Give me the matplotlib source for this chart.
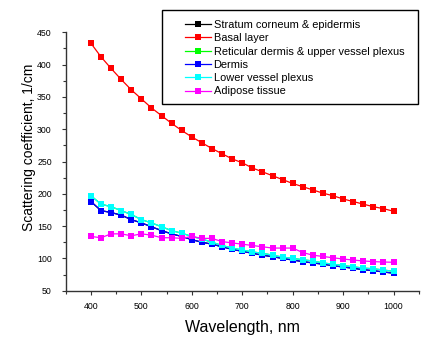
import matplotlib
matplotlib.use('Agg')
import matplotlib.pyplot as plt
from matplotlib.patches import Rectangle
from matplotlib.ticker import MultipleLocator

plt.rcParams['font.family'] = ['Liberation Sans', 'DejaVu Sans']

# scattering coefficient (1/cm) of the skin layers, 400-1000 nm in 20 nm steps
wavelength = list(range(400, 1001, 20))

stratum = [188, 174, 171, 167, 160, 155, 149, 143, 138, 134, 129, 125, 122, 118, 114, 111,
           108, 105, 102.6, 100, 97.5, 95, 93, 91, 88.7, 86.7, 84.7, 82.5, 81, 79, 77]
basal = [433, 412, 394, 377, 361, 347, 333, 321, 309, 298, 288, 279, 270, 262, 254, 248,
         240, 234, 228, 222, 216, 211, 206, 201, 197, 192, 188, 184, 180, 177, 173]
reticular = [197, 184, 180, 174, 168, 160, 155, 149, 143, 139, 134, 130, 125, 120, 116, 113,
             110, 108, 105, 102, 100, 98, 96, 93, 91, 89, 87, 85, 84, 82, 80]
dermis = [188, 174, 171, 167, 160, 155, 149, 143, 138, 134, 129, 125, 122, 118, 114, 111,
          108, 105, 102.6, 100, 97.5, 95, 93, 91, 88.7, 86.7, 84.7, 82.5, 81, 79, 77]
lower_plexus = [197, 184, 180, 174, 168, 160, 155, 149, 143, 139, 134, 130, 125, 120, 116, 113,
                110, 108, 105, 102, 100, 98, 96, 93, 91, 89, 87, 85, 84, 82, 80]
adipose = [134, 132, 138, 138, 135, 138, 136, 132, 132, 131, 134, 131, 131, 126, 124, 122,
           120, 118, 116, 116, 116, 109, 105, 103, 101, 99, 97.5, 96, 95, 94.4, 94]

series = [
    ('Stratum corneum & epidermis', stratum, 'black'),
    ('Basal layer', basal, '#ff0000'),
    ('Reticular dermis & upper vessel plexus', reticular, '#00ff00'),
    ('Dermis', dermis, '#0000ff'),
    ('Lower vessel plexus', lower_plexus, '#00ffff'),
    ('Adipose tissue', adipose, '#ff00ff'),
]

W, H = 421, 337
fig = plt.figure(figsize=(W / 100, H / 100), dpi=100)
ax = fig.add_axes([65.7 / W, 1 - 290.7 / H, (418.8 - 65.7) / W, (290.7 - 32.3) / H])

for name, vals, col in series:
    ax.plot(wavelength, vals, '-s', color=col, lw=0.9, ms=4.6, mew=0, label=name)

ax.set_xlim(350, 1050)
ax.set_ylim(50, 450)
ax.xaxis.set_minor_locator(MultipleLocator(50))
ax.yaxis.set_major_locator(MultipleLocator(50))
ax.yaxis.set_minor_locator(MultipleLocator(25))
ax.set_xticks([400, 500, 600, 700, 800, 900, 1000])

for s in ['top', 'right']:
    ax.spines[s].set_visible(False)
for s in ['left', 'bottom']:
    ax.spines[s].set_linewidth(1.0)
    ax.spines[s].set_color('#333333')

ax.tick_params(which='major', direction='out', length=3, width=0.8, color='#333333',
               labelsize=6.3)
ax.tick_params(which='minor', direction='out', length=2, width=0.8, color='#333333')
ax.tick_params(axis='x', which='major', pad=5)
ax.tick_params(axis='y', which='major', pad=7)

ax.set_xlabel('Wavelength, nm', fontsize=11.5, labelpad=6.5)
ax.set_ylabel('Scattering coefficient, 1/cm', fontsize=10)
ax.yaxis.set_label_coords(-0.083, 0.556)

# legend box sits partly above the plot area
fig.patches.append(Rectangle((161.7 / W, 1 - 104 / H), (418 - 161.7) / W, (104 - 10) / H,
                             transform=fig.transFigure, fill=False, lw=1.0, ec='black'))
leg = fig.legend(loc='upper left', bbox_to_anchor=(185 / W, 1 - 20 / H), frameon=False,
                 fontsize=7.9, handlelength=2.4, handletextpad=0.2, labelspacing=0.3,
                 borderpad=0, borderaxespad=0, markerscale=0.95)

fig.savefig('out.png', dpi=100)
